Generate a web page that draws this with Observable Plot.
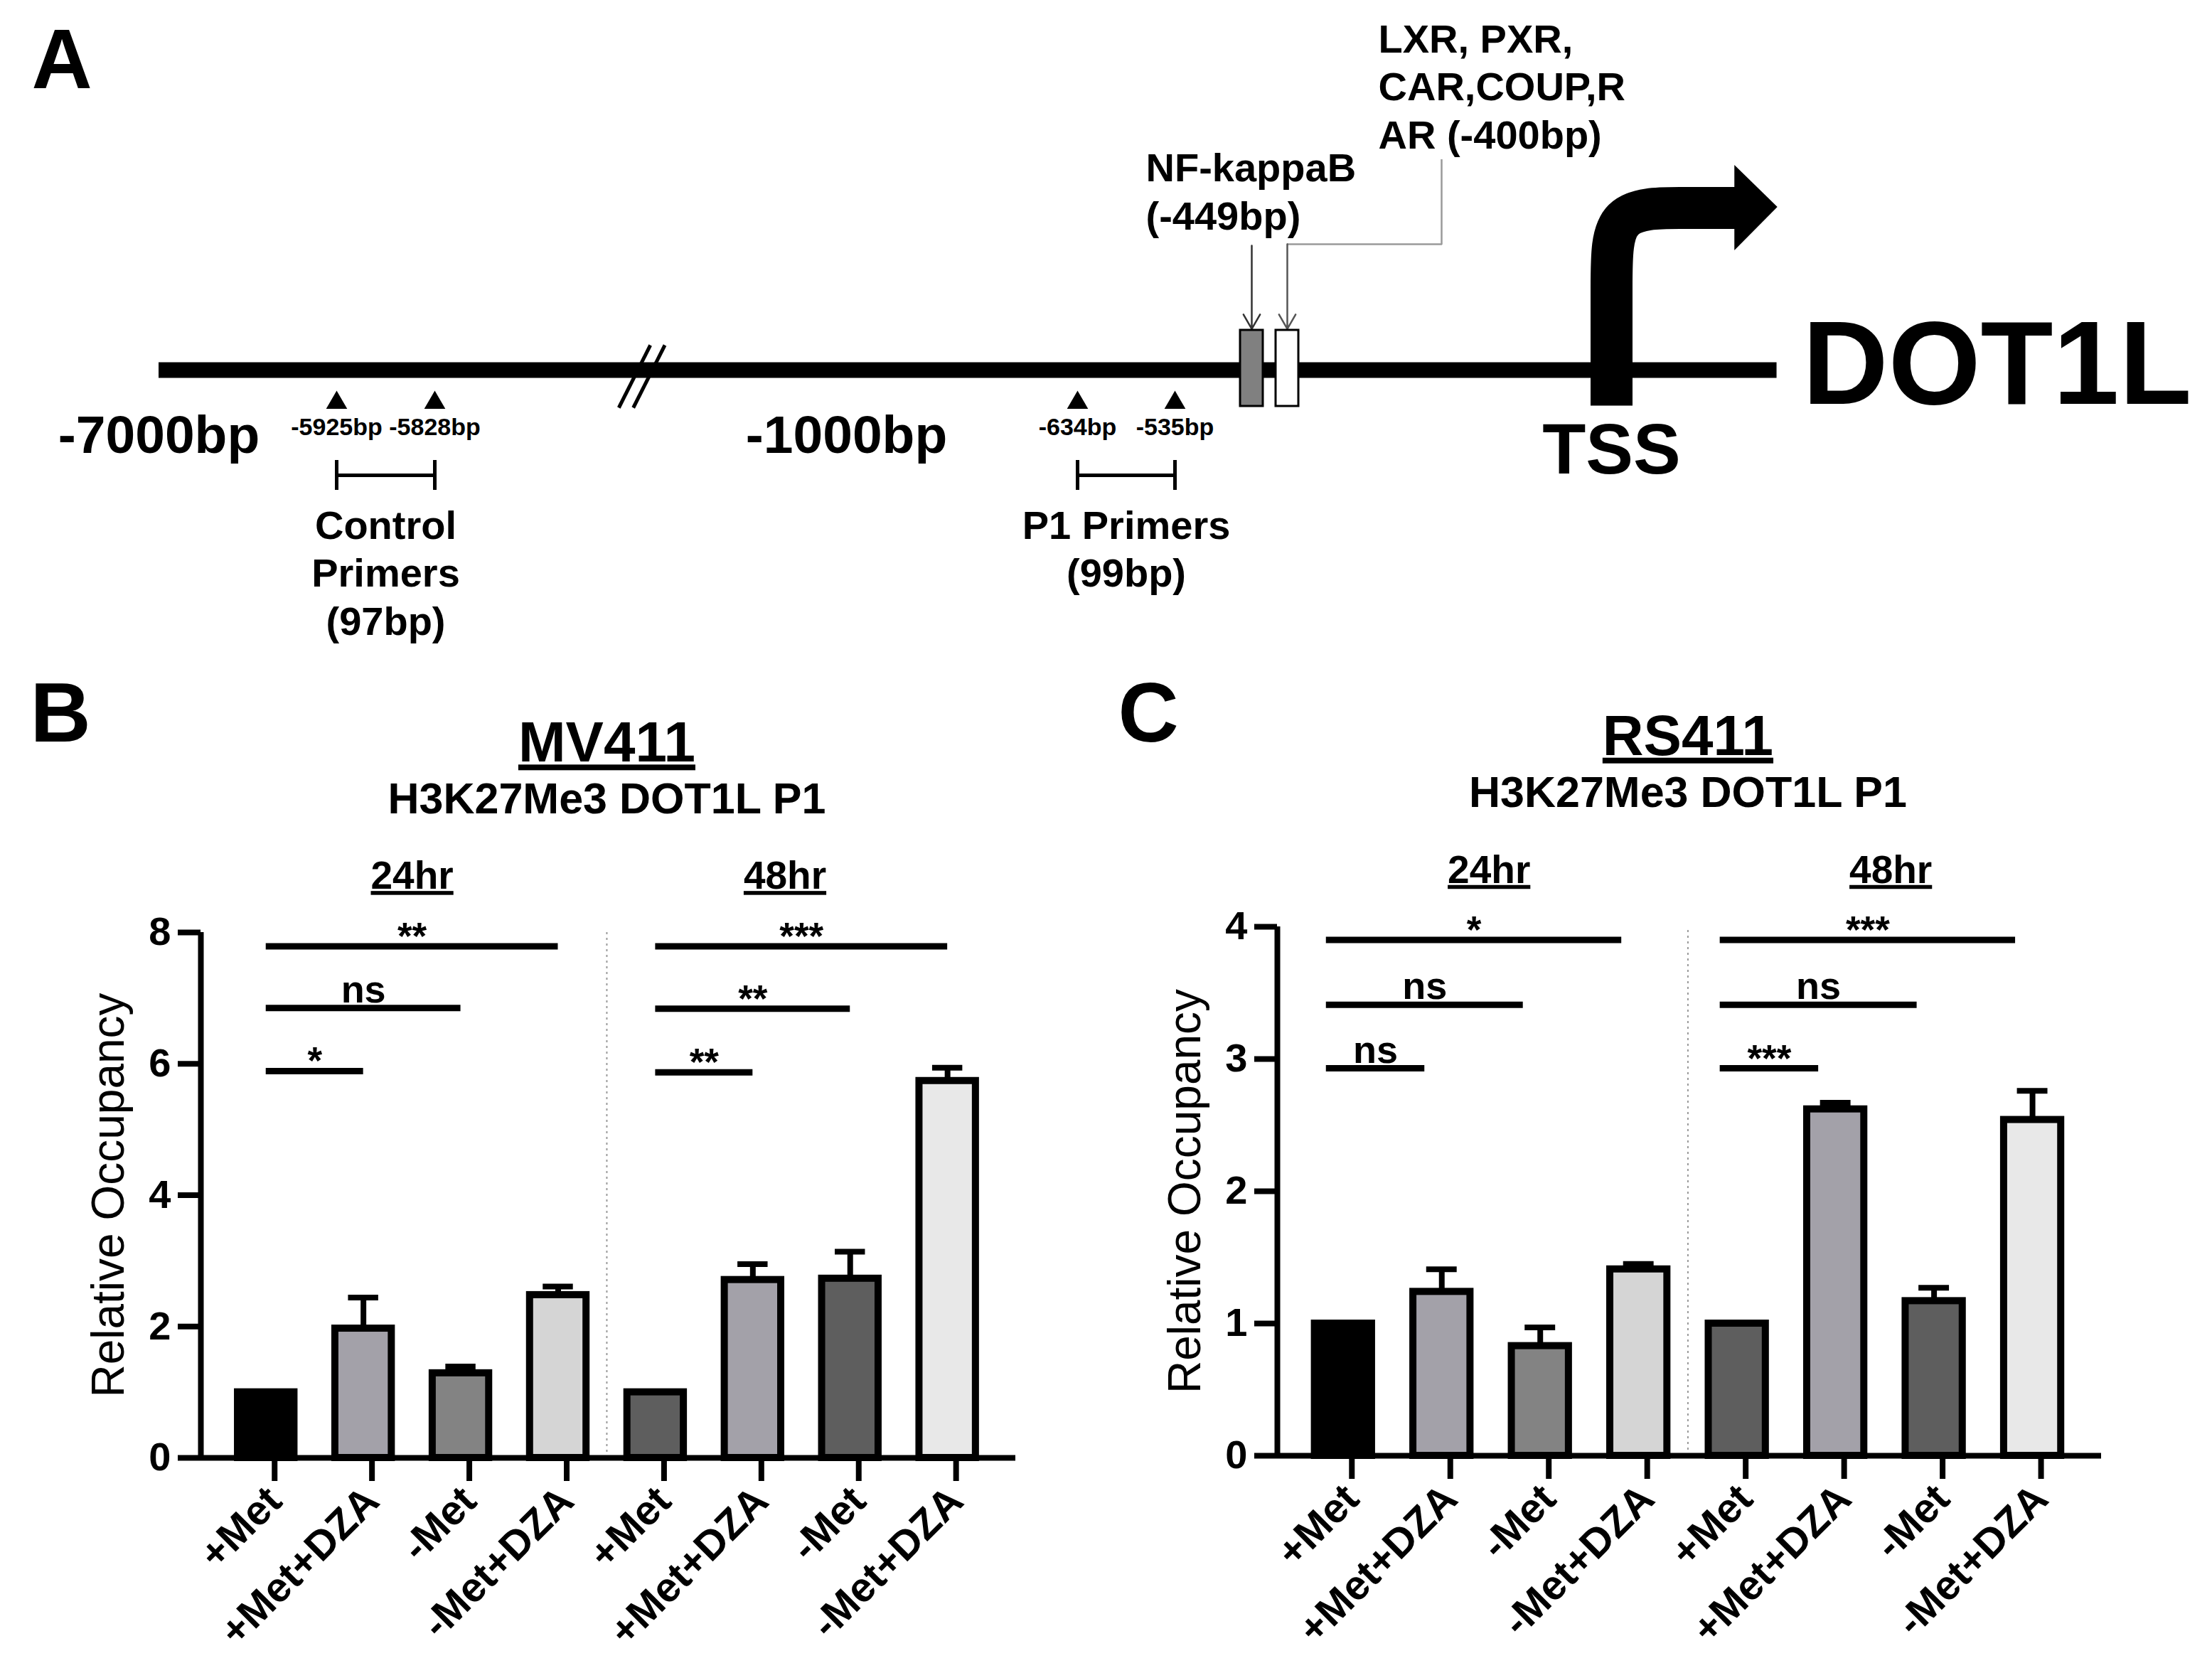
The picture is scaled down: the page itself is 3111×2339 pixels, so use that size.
<!DOCTYPE html>
<html>
<head>
<meta charset="utf-8">
<script src="https://cdn.jsdelivr.net/npm/d3@7"></script>
<script src="https://cdn.jsdelivr.net/npm/@observablehq/plot@0.6"></script>
<style>
  html, body { margin: 0; padding: 0; background: #fff; }
  #fig { position: relative; width: 3111px; height: 2339px; background: #fff; overflow: hidden; }
  #fig > svg { position: absolute; }
</style>
</head>
<body>
<div id="fig"></div>
<script>
// ===================== DATA =====================
// Panels B and C: ChIP relative occupancy (H3K27Me3 at DOT1L P1)
const conditions = ["+Met", "+Met+DZA", "-Met", "-Met+DZA"];
const timepoints = ["24hr", "48hr"];
const subtitle = "H3K27Me3 DOT1L P1";
const yLabel = "Relative Occupancy";

const mv411Mean  = [1.00, 1.97, 1.29, 2.48, 1.00, 2.71, 2.73, 5.74];
const mv411Upper = [null, 2.44, 1.39, 2.61, null, 2.95, 3.14, 5.94];
const mv411Ticks = [0, 2, 4, 6, 8];
const mv411Sig = [
  {from: 0, to: 1, y: 5.89, label: "*"},
  {from: 0, to: 2, y: 6.85, label: "ns"},
  {from: 0, to: 3, y: 7.79, label: "**"},
  {from: 4, to: 5, y: 5.87, label: "**"},
  {from: 4, to: 6, y: 6.84, label: "**"},
  {from: 4, to: 7, y: 7.79, label: "***"}
];

const rs411Mean  = [1.00, 1.24, 0.83, 1.41, 1.00, 2.62, 1.17, 2.54];
const rs411Upper = [null, 1.41, 0.97, 1.45, null, 2.67, 1.27, 2.76];
const rs411Ticks = [0, 1, 2, 3, 4];
const rs411Sig = [
  {from: 0, to: 1, y: 2.93, label: "ns"},
  {from: 0, to: 2, y: 3.41, label: "ns"},
  {from: 0, to: 3, y: 3.90, label: "*"},
  {from: 4, to: 5, y: 2.93, label: "***"},
  {from: 4, to: 6, y: 3.41, label: "ns"},
  {from: 4, to: 7, y: 3.90, label: "***"}
];

// Panel A: DOT1L promoter schematic (positions in bp relative to TSS)
const primerSites = [-5925, -5828, -634, -535];
const primerPairs = [
  {name: "Control\nPrimers\n(97bp)", start: -5925, end: -5828},
  {name: "P1 Primers\n(99bp)", start: -634, end: -535}
];
const regionLabels = [
  {bp: -7000, label: "-7000bp"},
  {bp: -1000, label: "-1000bp"}
];
const bindingSites = [
  {bp: -449, label: "NF-kappaB\n(-449bp)"},
  {bp: -400, label: "LXR, PXR,\nCAR,COUP,R\nAR (-400bp)"}
];
const tssLabel = "TSS";
const geneName = "DOT1L";

// ===================== STYLE =====================
const FONT = "'Liberation Sans', Arial, Helvetica, sans-serif";
const barPalette = ["#000000", "#a3a1a9", "#838383", "#d5d5d5", "#5e5e5e", "#a3a1a9", "#5e5e5e", "#e8e8e8"];
const sitePalette = ["#808080", "#ffffff"];
const baseStyle = {fontFamily: FONT, fontWeight: "bold", color: "black", background: "none", overflow: "visible"};
const fig = document.getElementById("fig");

function place(svg, left, top) {
  svg.style.left = left + "px";
  svg.style.top = top + "px";
  fig.appendChild(svg);
  return svg;
}
function underline(svg, words) {
  d3.select(svg).selectAll("text")
    .filter(function () { return words.includes(this.textContent); })
    .style("text-decoration", "underline");
}

// ===================== PANEL A =====================
// schematic (not to scale) piecewise mapping of bp to horizontal position
const bpAnchors = [-7000, -5925, -5828, -1000, -634, -535, -449, -400, 0];
const pxAnchors = [223, 473, 611, 1190, 1515, 1652, 1760, 1810, 2266];
const schematic = d3.scaleLinear().domain(bpAnchors).range(pxAnchors);
const lineEndBp = 204;
const breakBp = [-3485, -3315];

const panelA = Plot.plot({
  width: 3111, height: 940, margin: 0, axis: null,
  x: {transform: schematic, domain: [0, 3111], range: [0, 3111]},
  y: {type: "identity"},
  color: {type: "identity"},
  style: baseStyle,
  marks: [
    // promoter line
    Plot.ruleY([520], {x1: -7000, x2: lineEndBp, strokeWidth: 22, stroke: "black"}),
    // axis break
    Plot.link(breakBp, {x1: d => d - 185, x2: d => d + 185, y1: 573, y2: 485, stroke: "black", strokeWidth: 5, strokeLinecap: "butt"}),
    // primer sites
    Plot.dot(primerSites, {x: d => d, y: 566, symbol: "triangle", r: 11, fill: "black", stroke: "none"}),
    Plot.text(primerSites, {x: d => d, y: 611, text: d => `${d}bp`, fontSize: 34, lineAnchor: "bottom"}),
    // primer amplicons
    Plot.ruleY(primerPairs, {x1: "start", x2: "end", y: 668, strokeWidth: 5, stroke: "black"}),
    Plot.ruleX(primerPairs.flatMap(p => [p.start, p.end]), {x: d => d, y1: 647, y2: 689, strokeWidth: 5, stroke: "black"}),
    Plot.text(primerPairs, {x: d => (d.start + d.end) / 2, y: 710, text: "name", lineAnchor: "top", lineHeight: 1.2, fontSize: 56}),
    // region labels
    Plot.text(regionLabels, {x: "bp", y: 636, text: "label", lineAnchor: "bottom", fontSize: 75}),
    // binding sites
    Plot.arrow([bindingSites[0]], {x1: "bp", x2: "bp", y1: 345, y2: 462, stroke: "#333", strokeWidth: 2.5, headLength: 14}),
    Plot.ruleX([bindingSites[1]], {x: "bp", y1: 224, y2: 344, dx: 217, stroke: "#9a9a9a", strokeWidth: 2.5}),
    Plot.ruleY([bindingSites[1]], {x1: "bp", x2: "bp", y: 343, insetRight: -218, stroke: "#9a9a9a", strokeWidth: 2.5}),
    Plot.arrow([bindingSites[1]], {x1: "bp", x2: "bp", y1: 343, y2: 462, stroke: "#555", strokeWidth: 2.5, headLength: 14}),
    Plot.rect(bindingSites, {x1: "bp", x2: "bp", y1: 464, y2: 571, insetLeft: -16, insetRight: -16, fill: (d, i) => sitePalette[i], stroke: "black", strokeWidth: 3}),
    Plot.text([bindingSites[0]], {x: "bp", y: 322, text: "label", textAnchor: "start", lineAnchor: "bottom", dx: -149, lineHeight: 1.21, fontSize: 56}),
    Plot.text([bindingSites[1]], {x: "bp", y: 208, text: "label", textAnchor: "start", lineAnchor: "bottom", dx: 128, lineHeight: 1.2, fontSize: 56}),
    // TSS bent arrow
    Plot.line([{bp: 0, y: 570}, {bp: 0, y: 392}, {bp: 0, y: 292}, {bp: 88, y: 292}, {bp: 153, y: 292}],
      {x: "bp", y: "y", curve: "basis", stroke: "black", strokeWidth: 59, strokeLinecap: "butt", strokeLinejoin: "miter"}),
    Plot.areaY([{bp: 152, y1: 232, y2: 352}, {bp: 205, y1: 291, y2: 291}], {x: "bp", y1: "y1", y2: "y2", fill: "black", curve: "linear"}),
    Plot.text([tssLabel], {x: 0, y: 665, lineAnchor: "bottom", fontSize: 100}),
    Plot.text([geneName], {x: lineEndBp, y: 567, dx: 36, textAnchor: "start", lineAnchor: "bottom", fontSize: 167}),
    Plot.text(["A"], {frameAnchor: "top-left", dx: 44, dy: 123, textAnchor: "start", lineAnchor: "bottom", fontSize: 118})
  ]
});
place(panelA, 0, 0);

// ===================== PANELS B & C =====================
function barPanel(cfg) {
  const {letter, cell, mean, upper, sig, yMax, yTicks, sigShift, letterDx, letterDy, groupX} = cfg;
  const bars = mean.map((m, i) => ({i, mean: m, upper: upper[i], fill: barPalette[i]}));
  const errs = bars.filter(d => d.upper != null);
  const xDomain = [-0.67, 7.70];
  const svg = Plot.plot({
    width: cfg.width, height: cfg.height,
    marginLeft: cfg.marginLeft, marginRight: cfg.marginRight,
    marginTop: cfg.marginTop, marginBottom: cfg.marginBottom,
    x: {domain: xDomain},
    y: {domain: [0, yMax]},
    color: {type: "identity"},
    style: baseStyle,
    marks: [
      // separator between time points
      Plot.ruleX([3.5], {y1: 0, y2: yMax, stroke: "#9a9a9a", strokeWidth: 2, strokeDasharray: "3,5"}),
      // error bars (upper SEM)
      Plot.ruleX(errs, {x: "i", y1: "mean", y2: "upper", stroke: "black", strokeWidth: 8}),
      Plot.ruleY(errs, {y: "upper", x1: d => d.i - 0.155, x2: d => d.i + 0.155, stroke: "black", strokeWidth: 8}),
      // bars
      Plot.rect(bars, {x1: d => d.i - 0.29, x2: d => d.i + 0.29, y1: 0, y2: "mean", fill: "fill", stroke: "black", strokeWidth: 10}),
      // axes
      Plot.ruleX([xDomain[0]], {y1: 0, y2: yMax, stroke: "black", strokeWidth: 8}),
      Plot.ruleY([0], {stroke: "black", strokeWidth: 8}),
      Plot.axisY({ticks: yTicks, tickFormat: d => String(d), tickSize: 32, tickPadding: 10, fontSize: 56, strokeWidth: 8, label: null}),
      Plot.axisX({ticks: bars.map(d => d.i), tickFormat: i => conditions[i % 4], tickRotate: -45, tickSize: 33, tickPadding: 18, dx: 12, fontSize: 58, strokeWidth: 8, label: null}),
      Plot.text([yLabel], {frameAnchor: "left", textAnchor: "middle", lineAnchor: "middle", rotate: -90, dx: -129, fontSize: 64, fontWeight: "normal"}),
      // significance brackets
      Plot.ruleY(sig, {x1: "from", x2: "to", y: "y", stroke: "black", strokeWidth: 9, dx: sigShift}),
      Plot.text(sig.filter(d => d.label === "ns"), {x: d => (d.from + d.to) / 2, y: "y", text: "label", lineAnchor: "bottom", dy: -8, dx: sigShift, fontSize: 54}),
      Plot.text(sig.filter(d => d.label !== "ns"), {x: d => (d.from + d.to) / 2, y: "y", text: "label", lineAnchor: "bottom", dy: 4, dx: sigShift, fontSize: 53}),
      // group & titles
      Plot.text(timepoints, {x: (d, i) => groupX[i], y: yMax * 1.083, lineAnchor: "bottom", fontSize: 55}),
      Plot.text([subtitle], {x: 3.5, y: yMax * 1.226, lineAnchor: "bottom", fontSize: 61}),
      Plot.text([cell], {x: 3.5, y: yMax * 1.325, lineAnchor: "bottom", fontSize: 80}),
      Plot.text([letter], {frameAnchor: "top-left", dx: letterDx, dy: letterDy, textAnchor: "start", lineAnchor: "bottom", fontSize: 118})
    ]
  });
  underline(svg, [cell, ...timepoints]);
  return place(svg, cfg.left, cfg.top);
}

barPanel({
  letter: "B", cell: "MV411", mean: mv411Mean, upper: mv411Upper, sig: mv411Sig,
  yMax: 8, yTicks: mv411Ticks, sigShift: 0, groupX: [1.5, 5.33],
  left: 0, top: 940, width: 1555, height: 1399,
  marginLeft: 282, marginRight: 127, marginTop: 371, marginBottom: 289,
  letterDx: -240, letterDy: -269
});
barPanel({
  letter: "C", cell: "RS411", mean: rs411Mean, upper: rs411Upper, sig: rs411Sig,
  yMax: 4, yTicks: rs411Ticks, sigShift: -24, groupX: [1.48, 5.56],
  left: 1555, top: 940, width: 1556, height: 1399,
  marginLeft: 241, marginRight: 156, marginTop: 363, marginBottom: 292,
  letterDx: -224, letterDy: -261
});
</script>
</body>
</html>
